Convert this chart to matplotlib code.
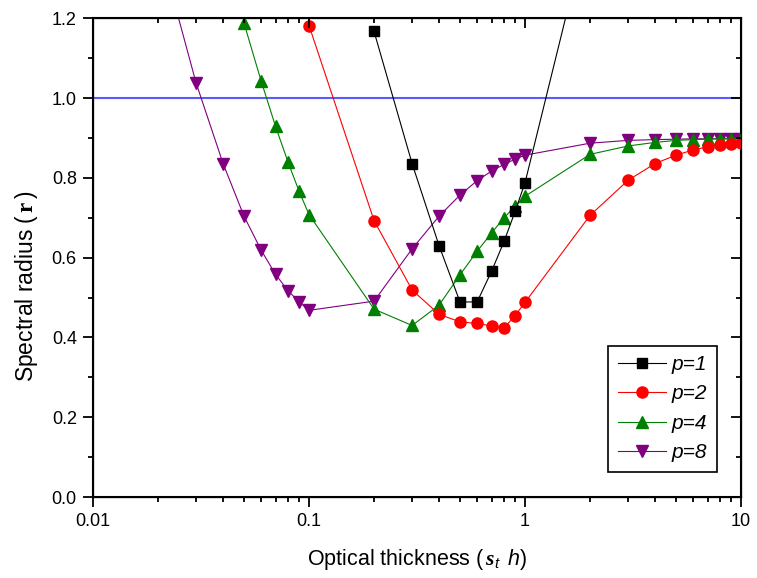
import matplotlib
matplotlib.use("Agg")
import matplotlib.pyplot as plt
from matplotlib.ticker import FixedLocator, LogLocator, NullFormatter, FixedFormatter, MultipleLocator, FormatStrFormatter

plt.rcParams["font.family"] = ["Liberation Sans", "DejaVu Sans"]
plt.rcParams["mathtext.fontset"] = "custom"
plt.rcParams["mathtext.rm"] = "Liberation Sans"
plt.rcParams["mathtext.it"] = "Liberation Sans:italic"
plt.rcParams["mathtext.bf"] = "Liberation Serif:bold:italic"
plt.rcParams["mathtext.sf"] = "Liberation Serif:bold"

# 數據
x_p1 = [0.2, 0.3, 0.4, 0.5, 0.6, 0.7, 0.8, 0.9, 1.0, 2.0]
y_p1 = [1.167, 0.836, 0.630, 0.489, 0.489, 0.566, 0.641, 0.716, 0.788, 1.45]

x_p2 = [0.1, 0.2, 0.3, 0.4, 0.5, 0.6, 0.7, 0.8, 0.9, 1.0, 2, 3, 4, 5, 6, 7, 8, 9, 10]
y_p2 = [1.182, 0.693, 0.519, 0.458, 0.439, 0.435, 0.429, 0.424, 0.455, 0.488,
        0.706, 0.794, 0.836, 0.857, 0.870, 0.878, 0.883, 0.885, 0.887]

x_p4 = [0.05, 0.06, 0.07, 0.08, 0.09, 0.1, 0.2, 0.3, 0.4, 0.5, 0.6, 0.7, 0.8, 0.9, 1.0,
        2, 3, 4, 5, 6, 7, 8, 9, 10]
y_p4 = [1.188, 1.043, 0.929, 0.839, 0.766, 0.708, 0.471, 0.430, 0.481, 0.557, 0.616,
        0.662, 0.700, 0.729, 0.754, 0.859, 0.880, 0.889, 0.894, 0.896, 0.897, 0.898,
        0.898, 0.898]

x_p8 = [0.02, 0.03, 0.04, 0.05, 0.06, 0.07, 0.08, 0.09, 0.1, 0.2, 0.3, 0.4, 0.5, 0.6,
        0.7, 0.8, 0.9, 1.0, 2, 3, 4, 5, 6, 7, 8, 9, 10]
y_p8 = [1.39, 1.038, 0.836, 0.704, 0.619, 0.558, 0.517, 0.489, 0.468, 0.491, 0.622,
        0.704, 0.757, 0.793, 0.817, 0.834, 0.847, 0.857, 0.887, 0.894, 0.896, 0.897,
        0.898, 0.898, 0.898, 0.898, 0.898]

fig = plt.figure(figsize=(7.57, 5.78), dpi=100)
ax = fig.add_axes([0.1229, 0.1401, 0.8560, 0.8282])

ax.axhline(1.0, color="#5a5aff", linewidth=1.5, zorder=1)

ax.plot(x_p8, y_p8, "-v", color="#800080", linewidth=0.8, markersize=9, label="p=8", zorder=2)
ax.plot(x_p4, y_p4, "-^", color="#008000", linewidth=0.8, markersize=9, label="p=4", zorder=3)
ax.plot(x_p2, y_p2, "-o", color="#ff0000", linewidth=0.8, markersize=8, label="p=2", zorder=4)
ax.plot(x_p1, y_p1, "-s", color="#000000", linewidth=0.8, markersize=7, label="p=1", zorder=5)

ax.set_xscale("log")
ax.set_xlim(0.01, 10)
ax.set_ylim(0.0, 1.2)

ax.xaxis.set_major_locator(FixedLocator([0.01, 0.1, 1, 10]))
ax.xaxis.set_major_formatter(FixedFormatter(["0.01", "0.1", "1", "10"]))
ax.xaxis.set_minor_locator(LogLocator(base=10, subs=range(2, 10)))
ax.xaxis.set_minor_formatter(NullFormatter())
ax.yaxis.set_major_locator(MultipleLocator(0.2))
ax.yaxis.set_minor_locator(MultipleLocator(0.1))
ax.yaxis.set_major_formatter(FormatStrFormatter("%.1f"))

# 底/左刻度朝外
ax.tick_params(which="both", direction="out", labelsize=13, width=1.3)
ax.tick_params(which="major", length=7.2)
ax.tick_params(which="minor", length=3.6)
ax.tick_params(axis="x", pad=4)
ax.tick_params(axis="y", pad=4.5)
for s in ax.spines.values():
    s.set_linewidth(1.5)

# 頂/右刻度朝內
ax_top = ax.twiny()
ax_top.set_xscale("log")
ax_top.set_xlim(0.01, 10)
ax_top.xaxis.set_major_locator(FixedLocator([0.01, 0.1, 1, 10]))
ax_top.xaxis.set_minor_locator(LogLocator(base=10, subs=range(2, 10)))
ax_top.tick_params(which="both", direction="in", labeltop=False, width=1.3)
ax_top.tick_params(which="major", length=7.2)
ax_top.tick_params(which="minor", length=3.6)

ax_right = ax.twinx()
ax_right.set_ylim(0.0, 1.2)
ax_right.yaxis.set_major_locator(MultipleLocator(0.2))
ax_right.yaxis.set_minor_locator(MultipleLocator(0.1))
ax_right.tick_params(which="both", direction="in", labelright=False, width=1.3)
ax_right.tick_params(which="major", length=7.2)
ax_right.tick_params(which="minor", length=3.6)

ax.set_xlabel(r"Optical thickness ($\,\mathbf{s}_{\mathit{t}}\ \,\mathit{h}$)", fontsize=15.5)
ax.set_ylabel(r"Spectral radius ($\,\mathsf{r}\,$)", fontsize=16.5)
ax.xaxis.set_label_coords(0.5, -0.104)
ax.yaxis.set_label_coords(-0.082, 0.44)

handles, labels = ax.get_legend_handles_labels()
leg = ax_right.legend(handles[::-1], labels[::-1], loc="lower right",
                      bbox_to_anchor=(0.9625, 0.053), borderaxespad=0,
                      prop={"style": "italic", "size": 15}, frameon=True, fancybox=False,
                      edgecolor="black", handlelength=2.3, labelspacing=0.5,
                      handletextpad=0.3, borderpad=0.45, framealpha=1)
leg.get_frame().set_linewidth(1.2)

fig.savefig("out.png", dpi=100)
